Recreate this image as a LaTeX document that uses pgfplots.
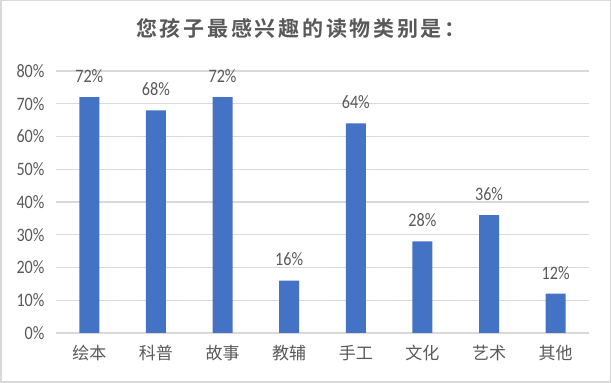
\documentclass[border=0pt]{standalone}
\usepackage{pgfplots}
\pgfplotsset{compat=1.18}
\usepackage{fontspec}
\setmainfont[FakeStretch=0.85]{Carlito}
\newfontfamily\cjk{Noto Sans CJK SC}
\newfontfamily\cjktitle[LetterSpace=13]{Noto Sans CJK SC Bold}
\definecolor{txt}{HTML}{595959}
\definecolor{barblue}{HTML}{4472C4}
\definecolor{gridgray}{HTML}{D9D9D9}
\begin{document}
\begin{tikzpicture}
\draw[gridgray, line width=1.5pt] (0.75pt,0.75pt) rectangle (610.25pt,382.25pt);
\node[text=txt, font=\cjktitle\fontsize{21}{24}\selectfont] at (301pt,355pt) {您孩子最感兴趣的读物类别是：};
\begin{axis}[
  at={(56pt,50pt)}, anchor=south west,
  scale only axis, width=533pt, height=262pt,
  xmin=-0.5, xmax=7.5, ymin=0, ymax=80,
  axis line style={draw=none},
  ymajorgrids=true, grid style={draw=gridgray, line width=1.2pt},
  xtick style={draw=none}, ytick style={draw=none},
  ytick={0,10,...,80},
  yticklabel={\pgfmathprintnumber{\tick}\%},
  xtick={0,...,7},
  xticklabels={绘本,科普,故事,教辅,手工,文化,艺术,其他},
  x tick label style={font=\cjk\fontsize{17}{19}\selectfont, text=txt, yshift=-9pt},
  y tick label style={font=\fontsize{19}{21}\selectfont, text=txt, xshift=-8pt},
  /pgf/number format/assume math mode=true,
  clip=false,
]
\addplot[ybar, bar width=20pt, fill=barblue, draw=none,
  nodes near coords={\pgfmathprintnumber{\pgfplotspointmeta}\%},
  nodes near coords style={font=\fontsize{19}{21}\selectfont, text=txt, yshift=11pt}]
  coordinates {(0,72) (1,68) (2,72) (3,16) (4,64) (5,28) (6,36) (7,12)};
\end{axis}
\end{tikzpicture}
\end{document}
